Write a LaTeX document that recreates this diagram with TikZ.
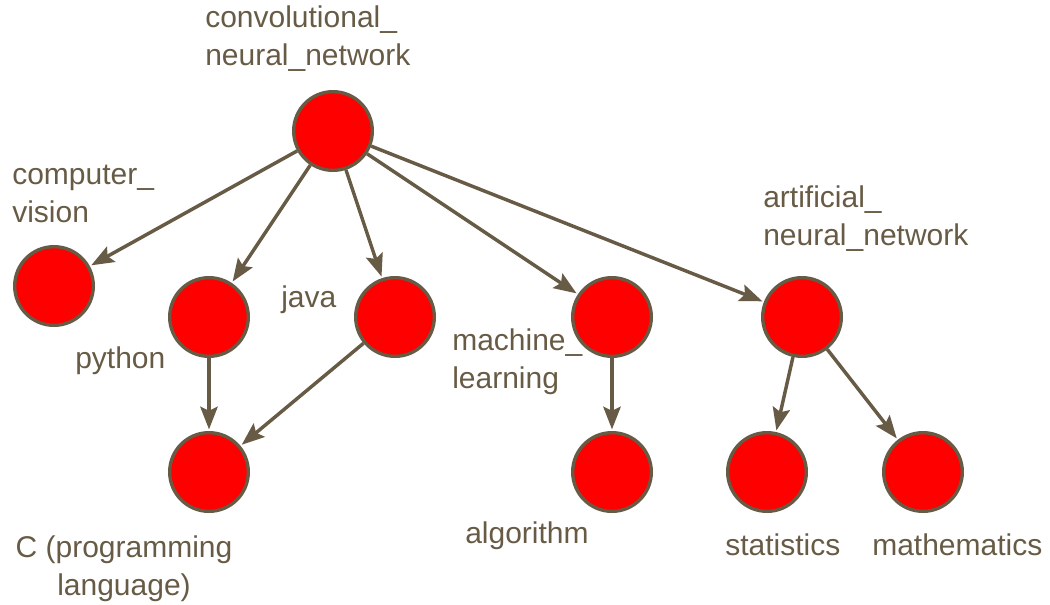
\documentclass[tikz,border=0pt]{standalone}
\usepackage{fontspec}
\setmainfont{Liberation Sans}
\usetikzlibrary{arrows.meta}
\definecolor{olivebrown}{HTML}{675B45}

\begin{document}
\begin{tikzpicture}[x=0.75pt,y=-0.75pt]
\tikzset{edge/.style = {-{Stealth[length=17pt,width=13pt,inset=3pt]},draw=olivebrown,line width=2.6pt,shorten >=1.2pt}}
\tikzset{vertex/.style = {shape=circle,draw=olivebrown,fill=red,line width=2.5pt,minimum size=59pt,inner sep=0pt}}
\tikzset{tag/.style = {text=olivebrown,font=\fontsize{22.5}{28.5}\selectfont,inner sep=0pt,anchor=base west,align=left}}

\useasboundingbox (0,0) rectangle (1050,604);

\node[vertex] (A) at (333,131) {};
\node[vertex] (B) at (54,286) {};
\node[vertex] (C) at (209,317) {};
\node[vertex] (D) at (395,317) {};
\node[vertex] (E) at (612,317) {};
\node[vertex] (F) at (802,317) {};
\node[vertex] (G) at (209,472) {};
\node[vertex] (H) at (612,472) {};
\node[vertex] (I) at (767,472) {};
\node[vertex] (J) at (923,472) {};

% labels: base anchor sits on the last line
\node[tag] (LA) at (205,65) {convolutional\_\\neural\_network};
\node[tag] (LB) at (12,222) {computer\_\\vision};
\node[tag] (LC) at (75,368) {python};
\node[tag] (LD) at (281,307) {java};
\node[tag] (LE) at (452,388) {machine\_\\learning};
\node[tag] (LF) at (763,245) {artificial\_\\neural\_network};
\node[tag,anchor=base,align=center] (LG) at (124,595) {C (programming\\language)};
\node[tag] (LH) at (465,543) {algorithm};
\node[tag] (LI) at (725,555) {statistics};
\node[tag] (LJ) at (872,555) {mathematics};

\path [edge]
(A) edge[edge] (B)
(A) edge[edge] (C)
(A) edge[edge] (D)
(A) edge[edge] (E)
(A) edge[edge] (F)
(C) edge[edge] (G)
(D) edge[edge] (G)
(E) edge[edge] (H)
(F) edge[edge] (I)
(F) edge[edge] (J)
;

\end{tikzpicture}
\end{document}
